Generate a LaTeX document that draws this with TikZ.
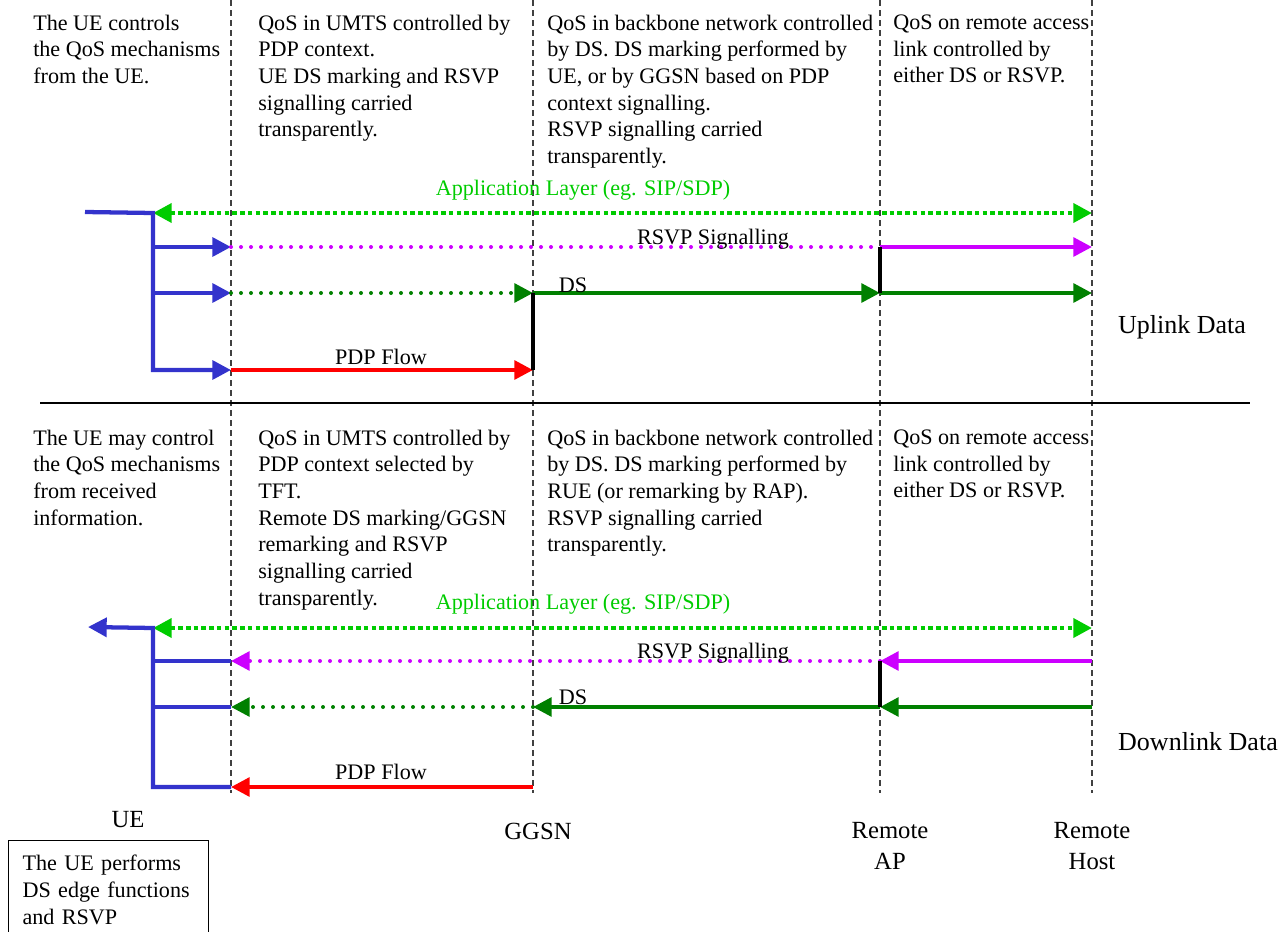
\documentclass[tikz,border=0pt]{standalone}
\usepackage{fontspec}
\setmainfont{Liberation Serif}
\usetikzlibrary{arrows.meta,positioning}
\definecolor{appgreen}{RGB}{0,204,0}
\definecolor{dsgreen}{RGB}{0,128,0}
\definecolor{rsvppink}{RGB}{204,0,255}
\definecolor{ueblue}{RGB}{51,51,204}
\definecolor{pdpred}{RGB}{255,0,0}

\begin{document}
\begin{tikzpicture}[x=0.75pt, y=-0.75pt,
  >={Triangle[length=14pt,width=14pt]},
  txt/.style={anchor=north west, align=left, inner sep=0pt, font=\fontsize{16.6}{20}\selectfont},
  lbl/.style={inner sep=0pt, font=\fontsize{16.6}{20}\selectfont},
  big/.style={inner sep=0pt, align=center, font=\fontsize{18.5}{23}\selectfont},
  lane/.style={draw=black!75, line width=0.8pt, dash pattern=on 4.5pt off 3pt},
  uepath/.style={draw=ueblue, line width=3.2pt},
  appflow/.style={draw=appgreen, line width=3.4pt, dash pattern=on 3.4pt off 2.4pt},
  rsvpdots/.style={draw=rsvppink, line width=3pt, line cap=round, dash pattern=on 0pt off 7.5pt},
  rsvpflow/.style={draw=rsvppink, line width=3pt},
  dsdots/.style={draw=dsgreen, line width=3pt, line cap=round, dash pattern=on 0pt off 7.5pt},
  dsflow/.style={draw=dsgreen, line width=3pt},
  pdpflow/.style={draw=pdpred, line width=3pt},
  edge/.style={draw=black, line width=3pt}]

\useasboundingbox (0,0) rectangle (1279,932);

% grid of lane points
\foreach \col/\x in {ue/153,umts/231,ggsn/533,rap/880,host/1092}
  \foreach \row/\y in {uapp/213,ursvp/247,uds/293,updp/370,dapp/628,drsvp/661,dds/707,dpdp/787}
    \coordinate (\col-\row) at (\x,\y);
\coordinate (ue-in) at (85,212);
\coordinate (ue-out) at (88,627);

% vertical lanes
\foreach \x in {231,533,880,1092}
  \draw[lane] (\x,0) -- (\x,793);

% separator
\coordinate (sep-l) at (40,403);
\coordinate (sep-r) at (1250,403);
\draw[line width=0.8pt] (sep-l) -- (sep-r);

% uplink texts
\node[txt] (up-ue) at (33,14.5) {The UE controls\\the QoS mechanisms\\from the UE.};
\node[txt] (up-umts) at (258,14.5) {QoS in UMTS controlled by\\PDP context.\\UE DS marking and RSVP\\signalling carried\\transparently.};
\node[txt] (up-bb) at (547,14.5) {QoS in backbone network controlled\\by DS. DS marking performed by\\UE, or by GGSN based on PDP\\context signalling.\\RSVP signalling carried\\transparently.};
\node[txt] (up-rem) at (893,14.5) {QoS on remote access\\link controlled by\\either DS or RSVP.};

% uplink flows
\draw[appflow,<->] (ue-uapp) -- (host-uapp);
\node[lbl, text=appgreen] (up-app) at (583,190) {Application Layer (eg. SIP/SDP)};
\draw[uepath,->] (ue-in) -- (ue-uapp) -- (ue-updp) -- (umts-updp);
\draw[uepath,->] (ue-ursvp) -- (umts-ursvp);
\draw[uepath,->] (ue-uds) -- (umts-uds);
\draw[rsvpdots] (umts-ursvp) -- (rap-ursvp);
\draw[rsvpflow,->] (rap-ursvp) -- (host-ursvp);
\node[lbl] (up-rsvp) at (713,239) {RSVP Signalling};
\draw[dsdots,->] (umts-uds) -- (ggsn-uds);
\draw[dsflow,->] (ggsn-uds) -- (rap-uds);
\draw[dsflow,->] (rap-uds) -- (host-uds);
\node[lbl] (up-ds) at (573,285) {DS};
\draw[pdpflow,->] (umts-updp) -- (ggsn-updp);
\node[lbl] (up-pdp) at (381,357) {PDP Flow};
\draw[edge] (ggsn-uds) -- (ggsn-updp);
\draw[edge] (rap-ursvp) -- (rap-uds);
\node[big] (uplink) at (1182,327) {\fontsize{19.5}{23}\selectfont Uplink Data};

% downlink texts
\node[txt] (dn-ue) at (33,429.5) {The UE may control\\the QoS mechanisms\\from received\\information.};
\node[txt] (dn-umts) at (258,429.5) {QoS in UMTS controlled by\\PDP context selected by\\TFT.\\Remote DS marking/GGSN\\remarking and RSVP\\signalling carried\\transparently.};
\node[txt] (dn-bb) at (547,429.5) {QoS in backbone network controlled\\by DS. DS marking performed by\\RUE (or remarking by RAP).\\RSVP signalling carried\\transparently.};
\node[txt] (dn-rem) at (893,429.5) {QoS on remote access\\link controlled by\\either DS or RSVP.};

% downlink flows
\draw[appflow,<->] (ue-dapp) -- (host-dapp);
\node[lbl, text=appgreen] (dn-app) at (583,604) {Application Layer (eg. SIP/SDP)};
\draw[uepath,<-] (ue-out) -- (ue-dapp) -- (ue-dpdp) -- (umts-dpdp);
\draw[uepath] (ue-drsvp) -- (umts-drsvp);
\draw[uepath] (ue-dds) -- (umts-dds);
\draw[rsvpdots,->] (rap-drsvp) -- (umts-drsvp);
\draw[rsvpflow,->] (host-drsvp) -- (rap-drsvp);
\node[lbl] (dn-rsvp) at (713,653) {RSVP Signalling};
\draw[dsdots,->] (ggsn-dds) -- (umts-dds);
\draw[dsflow,->] (rap-dds) -- (ggsn-dds);
\draw[dsflow,->] (host-dds) -- (rap-dds);
\node[lbl] (dn-ds) at (573,697) {DS};
\draw[pdpflow,->] (ggsn-dpdp) -- (umts-dpdp);
\node[lbl] (dn-pdp) at (381,772) {PDP Flow};
\draw[edge] (rap-drsvp) -- (rap-dds);
\node[big] (downlink) at (1198,742) {\fontsize{19.5}{23}\selectfont Downlink Data};

% network elements
\node[big] (ue) at (128,820) {UE};
\node[big] (ggsn) at (538,831) {GGSN};
\node[big, anchor=north] (rap) at (890,822) {Remote\\AP};
\node[big, anchor=north] (rhost) at (1092,822) {Remote\\Host};
\node[draw, line width=0.8pt, anchor=north west, align=left, text width=129pt,
  inner xsep=10.5pt, inner ysep=11pt, font=\fontsize{16.6}{20}\selectfont]
  (ue-note) at (8,840) {The UE performs\\DS edge functions\\and RSVP\\[6pt]};
\end{tikzpicture}
\end{document}
